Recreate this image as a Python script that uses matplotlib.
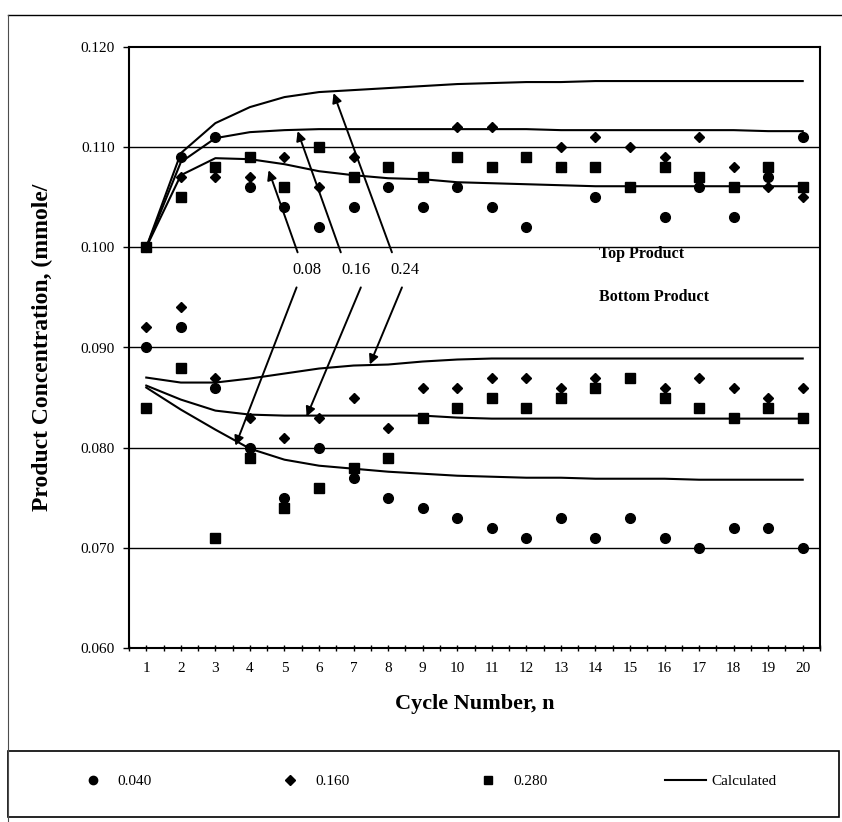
import numpy as np
import matplotlib
matplotlib.use("Agg")
from matplotlib import pyplot as plt
from matplotlib.lines import Line2D
from matplotlib.patches import Rectangle

cycles = np.arange(1, 21)

# measured points, top product
top_040 = [0.100, 0.109, 0.111, 0.106, 0.104, 0.102, 0.104, 0.106, 0.104, 0.106,
           0.104, 0.102, 0.108, 0.105, 0.106, 0.103, 0.106, 0.103, 0.107, 0.111]
top_160 = [0.100, 0.107, 0.107, 0.107, 0.109, 0.106, 0.109, 0.106, 0.107, 0.112,
           0.112, 0.109, 0.110, 0.111, 0.110, 0.109, 0.111, 0.108, 0.106, 0.105]
top_280 = [0.100, 0.105, 0.108, 0.109, 0.106, 0.110, 0.107, 0.108, 0.107, 0.109,
           0.108, 0.109, 0.108, 0.108, 0.106, 0.108, 0.107, 0.106, 0.108, 0.106]

# measured points, bottom product
bot_040 = [0.090, 0.092, 0.086, 0.080, 0.075, 0.080, 0.077, 0.075, 0.074, 0.073,
           0.072, 0.071, 0.073, 0.071, 0.073, 0.071, 0.070, 0.072, 0.072, 0.070]
bot_160 = [0.092, 0.094, 0.087, 0.083, 0.081, 0.083, 0.085, 0.082, 0.086, 0.086,
           0.087, 0.087, 0.086, 0.087, 0.087, 0.086, 0.087, 0.086, 0.085, 0.086]
bot_280 = [0.084, 0.088, 0.071, 0.079, 0.074, 0.076, 0.078, 0.079, 0.083, 0.084,
           0.085, 0.084, 0.085, 0.086, 0.087, 0.085, 0.084, 0.083, 0.084, 0.083]

# calculated curves
calc_top_008 = [0.1000, 0.1072, 0.1089, 0.1088, 0.1083, 0.1076, 0.1072, 0.1069, 0.1068, 0.1065,
                0.1064, 0.1063, 0.1062, 0.1061, 0.1061, 0.1061, 0.1061, 0.1061, 0.1061, 0.1061]
calc_top_016 = [0.1000, 0.1085, 0.1109, 0.1115, 0.1117, 0.1118, 0.1118, 0.1118, 0.1118, 0.1118,
                0.1118, 0.1118, 0.1117, 0.1117, 0.1117, 0.1117, 0.1117, 0.1117, 0.1116, 0.1116]
calc_top_024 = [0.1000, 0.1094, 0.1124, 0.1140, 0.1150, 0.1155, 0.1157, 0.1159, 0.1161, 0.1163,
                0.1164, 0.1165, 0.1165, 0.1166, 0.1166, 0.1166, 0.1166, 0.1166, 0.1166, 0.1166]
calc_bot_008 = [0.0860, 0.0838, 0.0818, 0.0799, 0.0788, 0.0782, 0.0779, 0.0776, 0.0774, 0.0772,
                0.0771, 0.0770, 0.0770, 0.0769, 0.0769, 0.0769, 0.0768, 0.0768, 0.0768, 0.0768]
calc_bot_016 = [0.0862, 0.0848, 0.0837, 0.0833, 0.0832, 0.0832, 0.0832, 0.0832, 0.0832, 0.0830,
                0.0829, 0.0829, 0.0829, 0.0829, 0.0829, 0.0829, 0.0829, 0.0829, 0.0829, 0.0829]
calc_bot_024 = [0.0870, 0.0865, 0.0865, 0.0869, 0.0874, 0.0879, 0.0882, 0.0883, 0.0886, 0.0888,
                0.0889, 0.0889, 0.0889, 0.0889, 0.0889, 0.0889, 0.0889, 0.0889, 0.0889, 0.0889]

curve_labels = ["0.08", "0.16", "0.24"]
label_x = [5.64, 7.06, 8.48]
# arrow (tail, head) in data units: up to top curves, down to bottom curves
arrows_up = [((5.38, 0.0995), (4.54, 0.1077)),
             ((6.63, 0.0995), (5.38, 0.1116)),
             ((8.11, 0.0995), (6.42, 0.1154))]
arrows_down = [((5.35, 0.0960), (3.58, 0.0802)),
               ((7.21, 0.0960), (5.64, 0.0831)),
               ((8.40, 0.0960), (7.47, 0.0883))]

plt.rcParams["font.family"] = ["Liberation Serif", "DejaVu Serif"]

fig = plt.figure(figsize=(8.42, 8.22), dpi=100)
ax = fig.add_axes([129 / 842, 1 - 648 / 822, (820 - 129) / 842, (648 - 47) / 822])

for yv in [0.070, 0.080, 0.090, 0.100, 0.110]:
    ax.axhline(yv, color="k", lw=1.0, zorder=1)

for c in [calc_top_008, calc_top_016, calc_top_024, calc_bot_008, calc_bot_016, calc_bot_024]:
    ax.plot(cycles, c, color="k", lw=1.5, zorder=2)

ax.plot(cycles, top_040, "o", color="k", ms=7, zorder=3)
ax.plot(cycles, bot_040, "o", color="k", ms=7, zorder=3)
ax.plot(cycles, top_160, "D", color="k", ms=5.5, zorder=3)
ax.plot(cycles, bot_160, "D", color="k", ms=5.5, zorder=3)
ax.plot(cycles, top_280, "s", color="k", ms=6.5, zorder=3)
ax.plot(cycles, bot_280, "s", color="k", ms=6.5, zorder=3)

for lab, lx in zip(curve_labels, label_x):
    ax.text(lx, 0.09775, lab, ha="center", va="center", fontsize=12)
for tail, head in arrows_up + arrows_down:
    ax.annotate("", xy=head, xytext=tail,
                arrowprops=dict(arrowstyle="-|>", color="k", lw=1.4, mutation_scale=14,
                                shrinkA=0, shrinkB=0))

ax.text(14.1, 0.0993, "Top Product", fontsize=11.5, fontweight="bold", va="center")
ax.text(14.1, 0.0950, "Bottom Product", fontsize=11.5, fontweight="bold", va="center")

ax.set_xlim(0.5, 20.5)
ax.set_ylim(0.060, 0.120)
ax.set_xticks(cycles)
ax.set_xticks(np.arange(0.5, 21, 1), minor=True)
ax.set_yticks(np.arange(0.060, 0.1201, 0.010))
ax.set_yticklabels(["{:.3f}".format(v) for v in np.arange(0.060, 0.1201, 0.010)])
ax.tick_params(axis="x", which="both", direction="inout", length=4, width=1, labelsize=11, pad=8)
ax.tick_params(axis="y", direction="out", length=4, width=1, labelsize=11, pad=6)
for s in ax.spines.values():
    s.set_linewidth(1.5)

ax.set_xlabel("Cycle Number, n", fontsize=16, fontweight="bold", labelpad=14)
ax.set_ylabel("Product Concentration, (mmole/", fontsize=17, fontweight="bold", labelpad=20)

# outer frame and legend box
fig.add_artist(Line2D([8 / 842, 1], [1 - 15 / 822, 1 - 15 / 822], color="k", lw=1.0))
fig.add_artist(Line2D([8 / 842, 8 / 842], [0, 1 - 15 / 822], color="0.3", lw=0.8))
fig.add_artist(Rectangle((8 / 842, 1 - 817 / 822), (839 - 8) / 842, (817 - 751) / 822,
                         transform=fig.transFigure, fill=False, ec="k", lw=1.2))

handles = [Line2D([], [], ls="none", marker="o", color="k", ms=6),
           Line2D([], [], ls="none", marker="D", color="k", ms=5),
           Line2D([], [], ls="none", marker="s", color="k", ms=5.5),
           Line2D([], [], color="k", lw=1.5)]
fig.legend(handles, ["0.040", "0.160", "0.280", "Calculated"], ncol=4, frameon=False,
           loc="center", bbox_to_anchor=(424 / 842, 1 - 781 / 822), fontsize=11,
           handlelength=2.7, handletextpad=0.3, columnspacing=7.7)

fig.savefig("out.png", dpi=100)
